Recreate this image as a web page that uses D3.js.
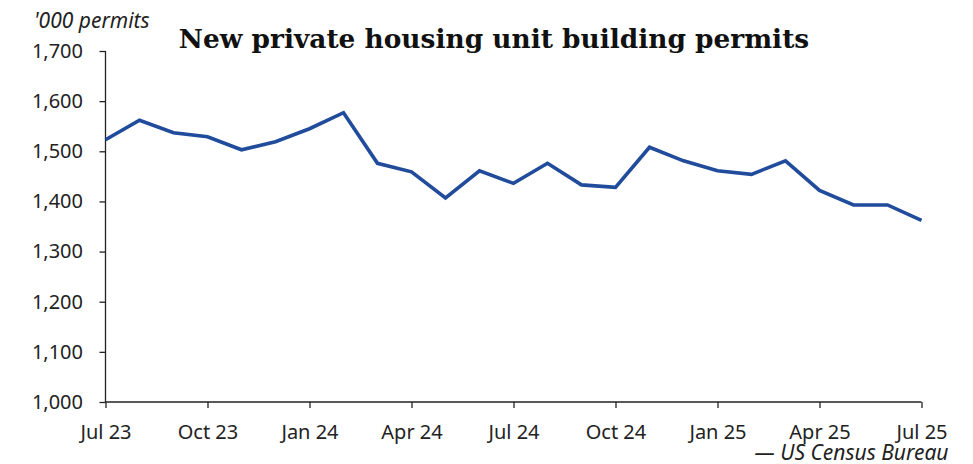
<!DOCTYPE html>
<html><head><meta charset="utf-8">
<script src="https://cdn.jsdelivr.net/npm/d3@7"></script>
<style>
body{margin:0;background:#fff;}
svg{display:block;}
</style></head>
<body><svg id="c" width="973" height="464"></svg>
<script>
const months = ["Jul 23","Aug 23","Sep 23","Oct 23","Nov 23","Dec 23","Jan 24","Feb 24","Mar 24","Apr 24","May 24","Jun 24","Jul 24","Aug 24","Sep 24","Oct 24","Nov 24","Dec 24","Jan 25","Feb 25","Mar 25","Apr 25","May 25","Jun 25","Jul 25"];
const permits = [1523,1562,1537,1529,1503,1519,1545,1577,1476,1459,1407,1461,1436,1476,1433,1428,1508,1481,1461,1454,1481,1422,1393,1393,1362];
const xTickLabels = ["Jul 23","Oct 23","Jan 24","Apr 24","Jul 24","Oct 24","Jan 25","Apr 25","Jul 25"];
const yTicks = [1000,1100,1200,1300,1400,1500,1600,1700];

const svg = d3.select("#c");
const L = 105.5, R = 921.5, T = 51, B = 402;
const x = d3.scalePoint().domain(months).range([L, R]);
const y = d3.scaleLinear().domain([1000, 1700]).range([B, T]);
const font = "'Noto Sans', 'Open Sans', sans-serif";

// y axis
const ya = svg.append("g").attr("transform", `translate(${L},0)`)
  .call(d3.axisLeft(y).tickValues(yTicks).tickFormat(d3.format(",")).tickSize(6).tickPadding(16.5));
ya.selectAll("text").attr("font-family", font).attr("font-size", 20).attr("fill", "#222");
ya.selectAll("line,path").attr("stroke", "#222").attr("stroke-width", 1.3);
ya.select(".domain").attr("d", `M0,${B}V${T}`);

// x axis
const xa = svg.append("g").attr("transform", `translate(0,${B})`)
  .call(d3.axisBottom(x).tickValues(xTickLabels).tickSize(6).tickPadding(17));
xa.selectAll("text").attr("font-family", font).attr("font-size", 20).attr("fill", "#222");
xa.selectAll("line,path").attr("stroke", "#222").attr("stroke-width", 1.3);
xa.select(".domain").attr("d", `M${L},0H${R}`);

// line
svg.append("path").datum(permits)
  .attr("fill", "none").attr("stroke", "#214c9b").attr("stroke-width", 3.6)
  .attr("stroke-linejoin", "miter")
  .attr("d", d3.line().x((d, i) => x(months[i])).y(d => y(d)));

// unit label
svg.append("text").attr("x", 34).attr("y", 27.5).attr("font-family", font)
  .attr("font-style", "italic").attr("font-size", 21).attr("fill", "#222").text("'000 permits");

// title
svg.append("text").attr("x", 494).attr("y", 48).attr("text-anchor", "middle")
  .attr("font-family", "'DejaVu Serif', 'Liberation Serif', serif").attr("font-weight", "bold")
  .attr("font-size", 26.4).attr("fill", "#111").text("New private housing unit building permits");

// source
svg.append("text").attr("x", 948.5).attr("y", 460).attr("text-anchor", "end").attr("font-family", font)
  .attr("font-style", "italic").attr("font-size", 21).attr("fill", "#222").text("— US Census Bureau");
</script></body></html>
